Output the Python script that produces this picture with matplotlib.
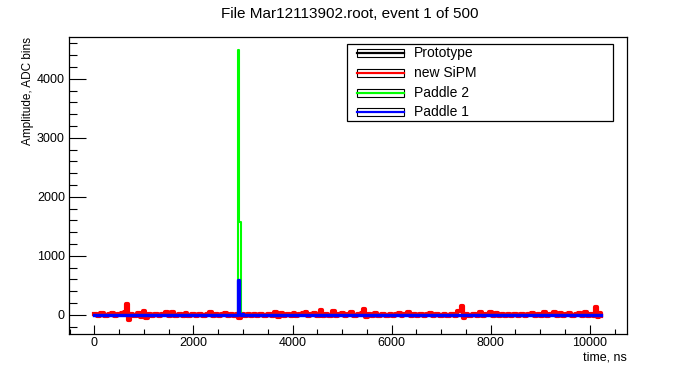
import numpy as np
import matplotlib
matplotlib.use('Agg')
import matplotlib.pyplot as plt
from matplotlib.patches import Rectangle
from matplotlib.lines import Line2D
from matplotlib.ticker import MultipleLocator

plt.rcParams['font.family'] = ['Liberation Sans', 'DejaVu Sans']

title = 'File Mar12113902.root, event 1 of 500'
labels = ['Prototype', 'new SiPM', 'Paddle 2', 'Paddle 1']
colors = ['black', '#ff0000', '#00ff00', '#0000ff']

# time points (ns) and amplitudes (ADC bins)
proto_t = [0, 10230]
proto_v = [-10, -10]

sipm_t = [0, 60, 120, 200, 280, 340, 400, 460, 540, 600, 640, 680, 720, 780, 860, 920,
          980, 1020, 1080, 1140, 1200, 1280, 1340, 1420, 1480, 1540, 1600, 1680, 1760,
          1820, 1880, 1960, 2040, 2100, 2180, 2260, 2320, 2380, 2440, 2500, 2560, 2620,
          2680, 2740, 2800, 2860, 2900, 2960, 3020, 3080, 3140, 3200, 3260, 3320, 3400,
          3480, 3560, 3620, 3680, 3740, 3800, 3860, 3940, 4000, 4060, 4120, 4200, 4260,
          4300, 4360, 4420, 4480, 4560, 4600, 4660, 4720, 4800, 4860, 4920, 4980, 5040,
          5100, 5160, 5220, 5300, 5380, 5420, 5460, 5520, 5580, 5640, 5700, 5780, 5860,
          5940, 6000, 6060, 6120, 6180, 6240, 6320, 6380, 6440, 6500, 6560, 6640, 6700,
          6760, 6820, 6880, 6960, 7040, 7100, 7180, 7260, 7320, 7400, 7440, 7480, 7540,
          7620, 7700, 7760, 7820, 7880, 7960, 8020, 8080, 8140, 8200, 8260, 8320, 8400,
          8460, 8540, 8600, 8680, 8740, 8820, 8880, 8940, 9000, 9060, 9120, 9180, 9260,
          9320, 9380, 9440, 9500, 9560, 9620, 9700, 9760, 9820, 9880, 9940, 10000, 10060,
          10100, 10140, 10180, 10230]
sipm_v = [20, -30, 30, -20, 10, 35, -25, 5, 30, 50, 180, -90, 20, -20, 30, -40,
          60, -50, 10, -30, 20, -20, 10, 50, -30, 40, -25, 15, -20,
          30, -15, 10, -30, 20, -20, 10, 40, -25, 10, -20, 15, 30,
          -20, 10, -30, 20, -60, 10, -20, 15, -30, 20, -15, 10, -20,
          15, -30, 40, -40, 30, -20, 20, -20, 30, -25, 15, 30, 50,
          -30, 20, 35, -20, 75, -25, 20, -30, 60, -20, 15, 30, -20,
          10, 45, -30, 20, 30, 100, -40, 20, -25, 30, -20, 10, -15,
          20, -20, 20, 25, -20, 15, 45, -20, 15, -15, 10, -20, 20,
          30, -20, 10, -15, 15, -20, 10, -15, 70, 150, -60, 20, -20,
          20, -15, 40, -30, 20, 50, -25, 35, -20, 15, -25, 20, -20,
          10, -20, 15, -15, 20, 35, -25, 20, -20, 40, -25, 15, 40,
          -20, 30, -25, 20, 30, -20, 15, 30, -25, 50, -20, 20, -30,
          130, -40, 30, -20]

pad2_t = [0, 2890, 2905, 2920, 2950, 2970, 10230]
pad2_v = [-5, -5, 4480, 1570, 40, -5, -5]

pad1_t = [0, 2890, 2900, 2925, 2960, 2980, 3000, 10230]
pad1_v = [-10, -10, 588, 20, -10, 15, -10, -10]

W, H = 696, 372
fig = plt.figure(figsize=(W / 100, H / 100), dpi=100)
ax = fig.add_axes([69 / W, (H - 334) / H, (627 - 69) / W, (334 - 37) / H])

ax.step(proto_t, proto_v, where='post', color=colors[0], lw=2.2)
ax.step(sipm_t, sipm_v, where='post', color=colors[1], lw=3.0)
ax.step(pad2_t, pad2_v, where='post', color=colors[2], lw=1.5)
ax.step(pad1_t, pad1_v, where='post', color=colors[3], lw=2.4)

ax.set_xlim(-512, 10752)
ax.set_ylim(-327, 4707)

ax.xaxis.set_major_locator(MultipleLocator(2000))
ax.xaxis.set_minor_locator(MultipleLocator(500))
ax.yaxis.set_major_locator(MultipleLocator(1000))
ax.yaxis.set_minor_locator(MultipleLocator(200))
ax.tick_params(axis='both', which='both', direction='in', top=False, right=False,
               labelsize=9, width=0.8)
ax.tick_params(axis='y', which='major', length=12.5, pad=3)
ax.tick_params(axis='y', which='minor', length=6)
ax.tick_params(axis='x', which='major', length=6.5, pad=2.5)
ax.tick_params(axis='x', which='minor', length=3.3)
for s in ax.spines.values():
    s.set_linewidth(0.9)

ax.set_ylabel('Amplitude, ADC bins', fontsize=8.5)
ax.yaxis.set_label_coords(-0.062, 1.0)
ax.yaxis.label.set_horizontalalignment('right')
fig.text(627 / W, 1 - 357 / H, 'time, ns', ha='right', va='center', fontsize=9)
fig.text(350 / W, 1 - 14 / H, title, ha='center', va='center', fontsize=11)

# legend box drawn in figure pixels
fig.patches.append(Rectangle((347 / W, 1 - 121 / H), (613 - 347) / W, (121 - 44) / H,
                             transform=fig.transFigure, fill=True, facecolor='white',
                             edgecolor='black', lw=0.9, zorder=5))
rows = [52.7, 72.7, 92.7, 111.7]
for lab, col, yc in zip(labels, colors, rows):
    fig.patches.append(Rectangle((357 / W, 1 - (yc + 4) / H), 47 / W, 8 / H,
                                 transform=fig.transFigure, fill=True, facecolor='white',
                                 edgecolor='black', lw=0.8, zorder=6))
    fig.lines.append(Line2D([357 / W, 404 / W], [1 - yc / H, 1 - yc / H],
                            transform=fig.transFigure, color=col, lw=1.6, zorder=7))
    fig.text(414 / W, 1 - yc / H, lab, ha='left', va='center', fontsize=10, zorder=8)

fig.savefig('out.png', dpi=100)
